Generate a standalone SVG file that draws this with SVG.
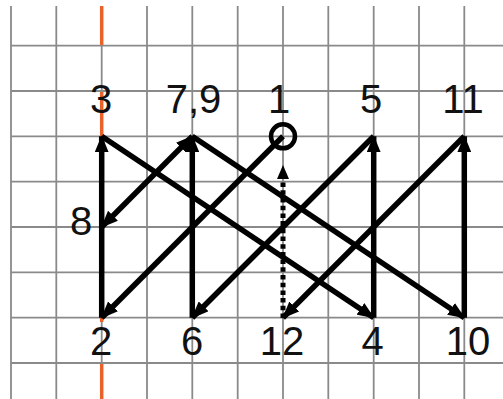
<svg xmlns="http://www.w3.org/2000/svg" width="503" height="399" viewBox="0 0 503 399">
<defs>
<style>
.grid line{stroke:#8a8a8a;stroke-width:1.8}
.or{stroke:#e8622a;stroke-width:3.5}
.lbl{font-family:"Liberation Sans",Arial,sans-serif;font-size:40px;fill:#111;text-anchor:middle}
.arr{stroke:#000;stroke-width:5.5;fill:none}
</style>
<marker id="ah" viewBox="0 0 17 14" markerWidth="17" markerHeight="14" refX="16" refY="7" orient="auto-start-reverse" markerUnits="userSpaceOnUse">
<path d="M0,0 L17,7 L0,14 Z" fill="#000"/>
</marker>
</defs>
<rect width="503" height="399" fill="#fff"/>
<g class="grid">
<line x1="11" y1="6" x2="11" y2="399"/>
<line x1="56.3" y1="6" x2="56.3" y2="399"/>
<line x1="101.7" y1="6" x2="101.7" y2="399"/>
<line x1="147" y1="6" x2="147" y2="399"/>
<line x1="192.3" y1="6" x2="192.3" y2="399"/>
<line x1="237.7" y1="6" x2="237.7" y2="399"/>
<line x1="283" y1="6" x2="283" y2="399"/>
<line x1="328.3" y1="6" x2="328.3" y2="399"/>
<line x1="373.7" y1="6" x2="373.7" y2="399"/>
<line x1="419" y1="6" x2="419" y2="399"/>
<line x1="464.3" y1="6" x2="464.3" y2="399"/>
<line x1="11" y1="45.7" x2="503" y2="45.7"/>
<line x1="11" y1="91" x2="503" y2="91"/>
<line x1="11" y1="136.3" x2="503" y2="136.3"/>
<line x1="11" y1="181.7" x2="503" y2="181.7"/>
<line x1="11" y1="227" x2="503" y2="227"/>
<line x1="11" y1="272.3" x2="503" y2="272.3"/>
<line x1="11" y1="317.7" x2="503" y2="317.7"/>
<line x1="11" y1="363" x2="503" y2="363"/>
</g>
<g id="axis">
<line class="or" x1="101.7" y1="6" x2="101.7" y2="45"/>
<line class="or" x1="101.7" y1="92" x2="101.7" y2="136"/>
<line class="or" x1="101.7" y1="318" x2="101.7" y2="322"/>
<line class="or" x1="101.7" y1="364" x2="101.7" y2="399"/>
</g>
<g id="connectors">
<line class="arr" x1="283" y1="136.3" x2="101.7" y2="317.7" marker-end="url(#ah)"/>
<line class="arr" x1="101.7" y1="317.7" x2="101.7" y2="136.3" marker-end="url(#ah)"/>
<line class="arr" x1="101.7" y1="136.3" x2="373.7" y2="317.7" marker-end="url(#ah)"/>
<line class="arr" x1="373.7" y1="317.7" x2="373.7" y2="136.3" marker-end="url(#ah)"/>
<line class="arr" x1="373.7" y1="136.3" x2="192.3" y2="317.7" marker-end="url(#ah)"/>
<line class="arr" x1="192.3" y1="317.7" x2="192.3" y2="136.3" marker-end="url(#ah)"/>
<line class="arr" x1="192.3" y1="136.3" x2="101.7" y2="227" marker-start="url(#ah)" marker-end="url(#ah)"/>
<line class="arr" x1="192.3" y1="136.3" x2="464.3" y2="317.7" marker-end="url(#ah)"/>
<line class="arr" x1="464.3" y1="317.7" x2="464.3" y2="136.3" marker-end="url(#ah)"/>
<line class="arr" x1="464.3" y1="136.3" x2="283" y2="317.7" marker-end="url(#ah)"/>
<line x1="283" y1="318" x2="283" y2="181" stroke="#000" stroke-width="5" stroke-dasharray="4.5 3.2"/>
<polygon points="283,165 277,179 289,179" fill="#000"/>
</g>
<g id="n1"><circle cx="283" cy="136.3" r="12" fill="none" stroke="#000" stroke-width="4.5"/><text class="lbl" x="279" y="113">1</text></g>
<g id="n2"><text class="lbl" x="101" y="355">2</text></g>
<g id="n3"><text class="lbl" x="101" y="113">3</text></g>
<g id="n4"><text class="lbl" x="372.5" y="355">4</text></g>
<g id="n5"><text class="lbl" x="371" y="113">5</text></g>
<g id="n6"><text class="lbl" x="192" y="355">6</text></g>
<g id="n79"><text class="lbl" x="193.5" y="113">7,9</text></g>
<g id="n8"><text class="lbl" x="81" y="235">8</text></g>
<g id="n10"><text class="lbl" x="468" y="355">10</text></g>
<g id="n11"><text class="lbl" x="463" y="113">11</text></g>
<g id="n12"><text class="lbl" x="282" y="355">12</text></g>
</svg>
